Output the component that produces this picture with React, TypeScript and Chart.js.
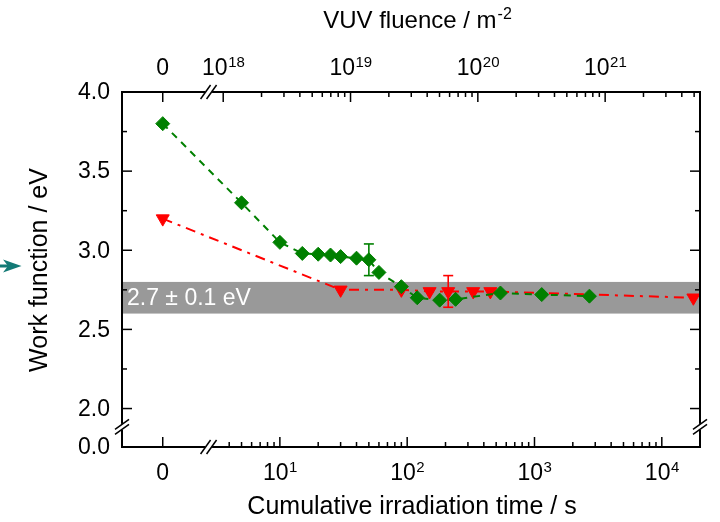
import { useEffect, useRef } from 'react';
import { Chart, registerables } from 'chart.js';

Chart.register(...registerables);

// ---------- data ----------
const greenTime = [0, 5, 10, 15, 20, 25, 30, 40, 50, 60, 90, 120, 180, 240, 540, 1140, 2700];
const greenWF = [3.8, 3.3, 3.05, 2.98, 2.975, 2.97, 2.96, 2.95, 2.94, 2.86, 2.77, 2.7, 2.685, 2.69, 2.73, 2.72, 2.71];
const greenErrTime = [50];
const greenErrSize = [0.1];

const redTime = [0, 30, 90, 150, 210, 330, 450, 17700];
const redWF = [3.2, 2.75, 2.75, 2.74, 2.74, 2.74, 2.74, 2.7];
const redErrTime = [210];
const redErrSize = [0.1];

const bandRange = [2.6, 2.8];
const bandLabel = '2.7 \u00b1 0.1 eV';

const yMajorTicks = [2.0, 2.5, 3.0, 3.5, 4.0];
const yMinorTicks = [2.25, 2.75, 3.25, 3.75];
const yMajorLabels = ['2.0', '2.5', '3.0', '3.5', '4.0'];
const yZeroLabel = '0.0';

const xMajorTicks = [10, 100, 1000, 10000];
const xMajorExp = ['1', '2', '3', '4'];
const topMajorTicks = [1e18, 1e19, 1e20, 1e21];
const topMajorExp = ['18', '19', '20', '21'];

const xTitle = 'Cumulative irradiation time / s';
const yTitle = 'Work function / eV';
const topTitle = 'VUV fluence / m';
const topTitleExp = '-2';

// ---------- axis geometry (broken axes) ----------
const FLUX = Math.pow(10, 17.445); // fluence per second of irradiation
const X_MIN = Math.pow(10, -0.24);
const X_MAX = Math.pow(10, 4.3);
const X_ZERO = Math.pow(10, 0.08); // where t = 0 is drawn
const X_BREAK = Math.pow(10, 0.44);
const Y_MIN = 1.757; // where 0.0 is drawn
const Y_MAX = 4.0;
const Y_BREAK = 1.884;

const FONT = '"Liberation Sans", Arial, Helvetica, sans-serif';
const f = (s: number) => `${s}px ${FONT}`;

const GREEN = '#008000';
const RED = '#ff0000';

const TICK_FONT = 23;
const SUP_FONT = 15;
const TITLE_FONT = 25;

const mapT = (t: number) => (t === 0 ? X_ZERO : t);

function line(ctx: CanvasRenderingContext2D, x1: number, y1: number, x2: number, y2: number) {
  ctx.beginPath();
  ctx.moveTo(x1, y1);
  ctx.lineTo(x2, y2);
  ctx.stroke();
}

function drawPow(ctx: CanvasRenderingContext2D, base: string, exp: string, cx: number, baseline: number, size: number, supSize: number) {
  ctx.font = f(size);
  const wb = ctx.measureText(base).width;
  ctx.font = f(supSize);
  const we = ctx.measureText(exp).width;
  const start = cx - (wb + we) / 2;
  ctx.textAlign = 'left';
  ctx.textBaseline = 'alphabetic';
  ctx.font = f(size);
  ctx.fillText(base, start, baseline);
  ctx.font = f(supSize);
  ctx.fillText(exp, start + wb + 0.5, baseline - size * 0.33);
}

function errBars(ctx: CanvasRenderingContext2D, chart: any, times: number[], sizes: number[], srcT: number[], srcV: number[], color: string) {
  const x = chart.scales.x;
  const y = chart.scales.y;
  ctx.save();
  ctx.strokeStyle = color;
  ctx.lineWidth = 1.6;
  times.forEach((t, i) => {
    const v = srcV[srcT.indexOf(t)];
    const px = x.getPixelForValue(mapT(t));
    const p1 = y.getPixelForValue(v + sizes[i]);
    const p2 = y.getPixelForValue(v - sizes[i]);
    line(ctx, px, p1, px, p2);
    line(ctx, px - 5, p1, px + 5, p1);
    line(ctx, px - 5, p2, px + 5, p2);
  });
  ctx.restore();
}

const axesPlugin = {
  id: 'brokenAxes',
  beforeDatasetsDraw(chart: any) {
    const { ctx, chartArea: ca } = chart;
    const y = chart.scales.y;
    const yt = y.getPixelForValue(bandRange[1]);
    const yb = y.getPixelForValue(bandRange[0]);
    ctx.save();
    ctx.fillStyle = '#999999';
    ctx.fillRect(ca.left, yt, ca.right - ca.left, yb - yt);
    ctx.fillStyle = '#ffffff';
    ctx.font = f(23);
    ctx.textAlign = 'left';
    ctx.textBaseline = 'middle';
    ctx.fillText(bandLabel, ca.left + 5, (yt + yb) / 2 + 1);
    ctx.restore();
  },
  afterDatasetsDraw(chart: any) {
    const { ctx, chartArea: ca } = chart;
    const x = chart.scales.x;
    const xt = chart.scales.xTop;
    const y = chart.scales.y;

    errBars(ctx, chart, greenErrTime, greenErrSize, greenTime, greenWF, GREEN);
    errBars(ctx, chart, redErrTime, redErrSize, redTime, redWF, RED);

    ctx.save();
    ctx.strokeStyle = '#000';
    ctx.fillStyle = '#000';
    // frame
    ctx.lineWidth = 2;
    ctx.lineCap = 'square';
    line(ctx, ca.left, ca.top, ca.right, ca.top);
    line(ctx, ca.left, ca.bottom, ca.right, ca.bottom);
    line(ctx, ca.left, ca.top, ca.left, ca.bottom);
    line(ctx, ca.right, ca.top, ca.right, ca.bottom);
    ctx.lineCap = 'butt';

    // ticks
    ctx.lineWidth = 1.5;
    const MAJ = 10;
    const MIN = 5;
    // bottom
    const zx = x.getPixelForValue(X_ZERO);
    line(ctx, zx, ca.bottom, zx, ca.bottom - MAJ);
    line(ctx, zx, ca.top, zx, ca.top + MAJ);
    for (let d = 0; d <= 4; d++) {
      for (let m = 1; m <= 9; m++) {
        const t = m * Math.pow(10, d);
        if (t < 3.5 || t > X_MAX) continue;
        const px = x.getPixelForValue(t);
        line(ctx, px, ca.bottom, px, ca.bottom - (m === 1 ? MAJ : MIN));
      }
    }
    // top
    for (let d = 18; d <= 21; d++) {
      for (let m = 1; m <= 9; m++) {
        const F = m * Math.pow(10, d);
        if (F > X_MAX * FLUX) continue;
        const px = xt.getPixelForValue(F);
        line(ctx, px, ca.top, px, ca.top + (m === 1 ? MAJ : MIN));
      }
    }
    // left / right
    yMajorTicks.forEach((v) => {
      const py = y.getPixelForValue(v);
      line(ctx, ca.left, py, ca.left + MAJ, py);
      line(ctx, ca.right, py, ca.right - MAJ, py);
    });
    yMinorTicks.forEach((v) => {
      const py = y.getPixelForValue(v);
      line(ctx, ca.left, py, ca.left + MIN, py);
      line(ctx, ca.right, py, ca.right - MIN, py);
    });

    // breaks
    const bx = x.getPixelForValue(X_BREAK);
    const by = y.getPixelForValue(Y_BREAK);
    const hBreak = (yy: number) => {
      ctx.fillStyle = '#fff';
      ctx.fillRect(bx - 3.5, yy - 2, 7, 4);
      ctx.strokeStyle = '#000';
      ctx.lineWidth = 1.5;
      line(ctx, bx - 3 - 5, yy + 7, bx - 3 + 5, yy - 7);
      line(ctx, bx + 3 - 5, yy + 7, bx + 3 + 5, yy - 7);
    };
    const vBreak = (xx: number) => {
      ctx.fillStyle = '#fff';
      ctx.fillRect(xx - 2, by - 3, 4, 6);
      ctx.strokeStyle = '#000';
      ctx.lineWidth = 1.5;
      line(ctx, xx - 7, by - 2.5 + 5, xx + 7, by - 2.5 - 5);
      line(ctx, xx - 7, by + 2.5 + 5, xx + 7, by + 2.5 - 5);
    };
    hBreak(ca.bottom);
    hBreak(ca.top);
    vBreak(ca.left);
    vBreak(ca.right);

    // y labels
    ctx.fillStyle = '#000';
    ctx.font = f(TICK_FONT);
    ctx.textAlign = 'right';
    ctx.textBaseline = 'middle';
    yMajorTicks.forEach((v, i) => {
      ctx.fillText(yMajorLabels[i], ca.left - 12, y.getPixelForValue(v) + 1);
    });
    ctx.fillText(yZeroLabel, ca.left - 12, ca.bottom + 1);

    // bottom labels
    ctx.textAlign = 'center';
    ctx.textBaseline = 'alphabetic';
    ctx.font = f(TICK_FONT);
    ctx.fillText('0', zx, 480);
    xMajorTicks.forEach((t, i) => drawPow(ctx, '10', xMajorExp[i], x.getPixelForValue(t), 480, TICK_FONT, SUP_FONT));
    // top labels
    ctx.textAlign = 'center';
    ctx.font = f(TICK_FONT);
    ctx.fillText('0', zx, 75);
    topMajorTicks.forEach((F, i) => drawPow(ctx, '10', topMajorExp[i], xt.getPixelForValue(F), 75, TICK_FONT, SUP_FONT));

    // titles
    ctx.font = f(TITLE_FONT);
    ctx.textAlign = 'center';
    ctx.fillText(xTitle, 412, 514);
    // top title with superscript
    ctx.font = f(24);
    const w1 = ctx.measureText(topTitle).width;
    ctx.font = f(16);
    const w2 = ctx.measureText(topTitleExp).width;
    const sx = 417 - (w1 + w2) / 2;
    ctx.textAlign = 'left';
    ctx.font = f(24);
    ctx.fillText(topTitle, sx, 28);
    ctx.font = f(16);
    ctx.fillText(topTitleExp, sx + w1 + 1, 19);

    ctx.save();
    ctx.translate(47, 270);
    ctx.rotate(-Math.PI / 2);
    ctx.textAlign = 'center';
    ctx.textBaseline = 'alphabetic';
    ctx.font = f(TITLE_FONT);
    ctx.fillText(yTitle, 0, 0);
    ctx.restore();

    // teal arrow at left edge
    ctx.fillStyle = '#137a76';
    ctx.beginPath();
    ctx.moveTo(21.5, 266);
    ctx.lineTo(3, 259.5);
    ctx.lineTo(8, 266);
    ctx.lineTo(3, 272.5);
    ctx.closePath();
    ctx.fill();
    ctx.fillRect(0, 264.5, 9, 3);

    ctx.restore();
  },
};

export default function App() {
  const ref = useRef<HTMLCanvasElement>(null);
  useEffect(() => {
    const chart = new Chart(ref.current as HTMLCanvasElement, {
      type: 'line',
      data: {
        datasets: [
          {
            label: 'green',
            data: greenTime.map((t, i) => ({ x: mapT(t), y: greenWF[i] })),
            borderColor: GREEN,
            backgroundColor: GREEN,
            borderWidth: 2,
            borderDash: [7, 6],
            pointStyle: 'rectRot',
            pointRadius: 7,
            pointBorderWidth: 1,
            pointBackgroundColor: GREEN,
            pointBorderColor: GREEN,
            tension: 0,
            clip: false,
          } as any,
          {
            label: 'red',
            data: redTime.map((t, i) => ({ x: mapT(t), y: redWF[i] })),
            borderColor: RED,
            backgroundColor: RED,
            borderWidth: 2,
            borderDash: [10, 6, 3, 6],
            pointStyle: 'triangle',
            rotation: 180,
            pointRadius: 7.5,
            pointBorderWidth: 1,
            pointBackgroundColor: RED,
            pointBorderColor: RED,
            tension: 0,
            clip: false,
          } as any,
        ],
      },
      options: {
        responsive: false,
        animation: false,
        devicePixelRatio: 1,
        layout: { padding: { left: 122, right: 20, top: 92, bottom: 75 } },
        plugins: { legend: { display: false }, tooltip: { enabled: false } },
        scales: {
          x: { type: 'logarithmic', min: X_MIN, max: X_MAX, display: false },
          xTop: { type: 'logarithmic', axis: 'x', position: 'top', min: X_MIN * FLUX, max: X_MAX * FLUX, display: false },
          y: { type: 'linear', min: Y_MIN, max: Y_MAX, display: false },
        },
      } as any,
      plugins: [axesPlugin],
    });
    return () => chart.destroy();
  }, []);
  return (
    <div style={{ position: 'fixed', left: 0, top: 0, width: 720, height: 522, background: '#fff' }}>
      <canvas ref={ref} width={720} height={522} style={{ width: 720, height: 522, display: 'block' }} />
    </div>
  );
}
